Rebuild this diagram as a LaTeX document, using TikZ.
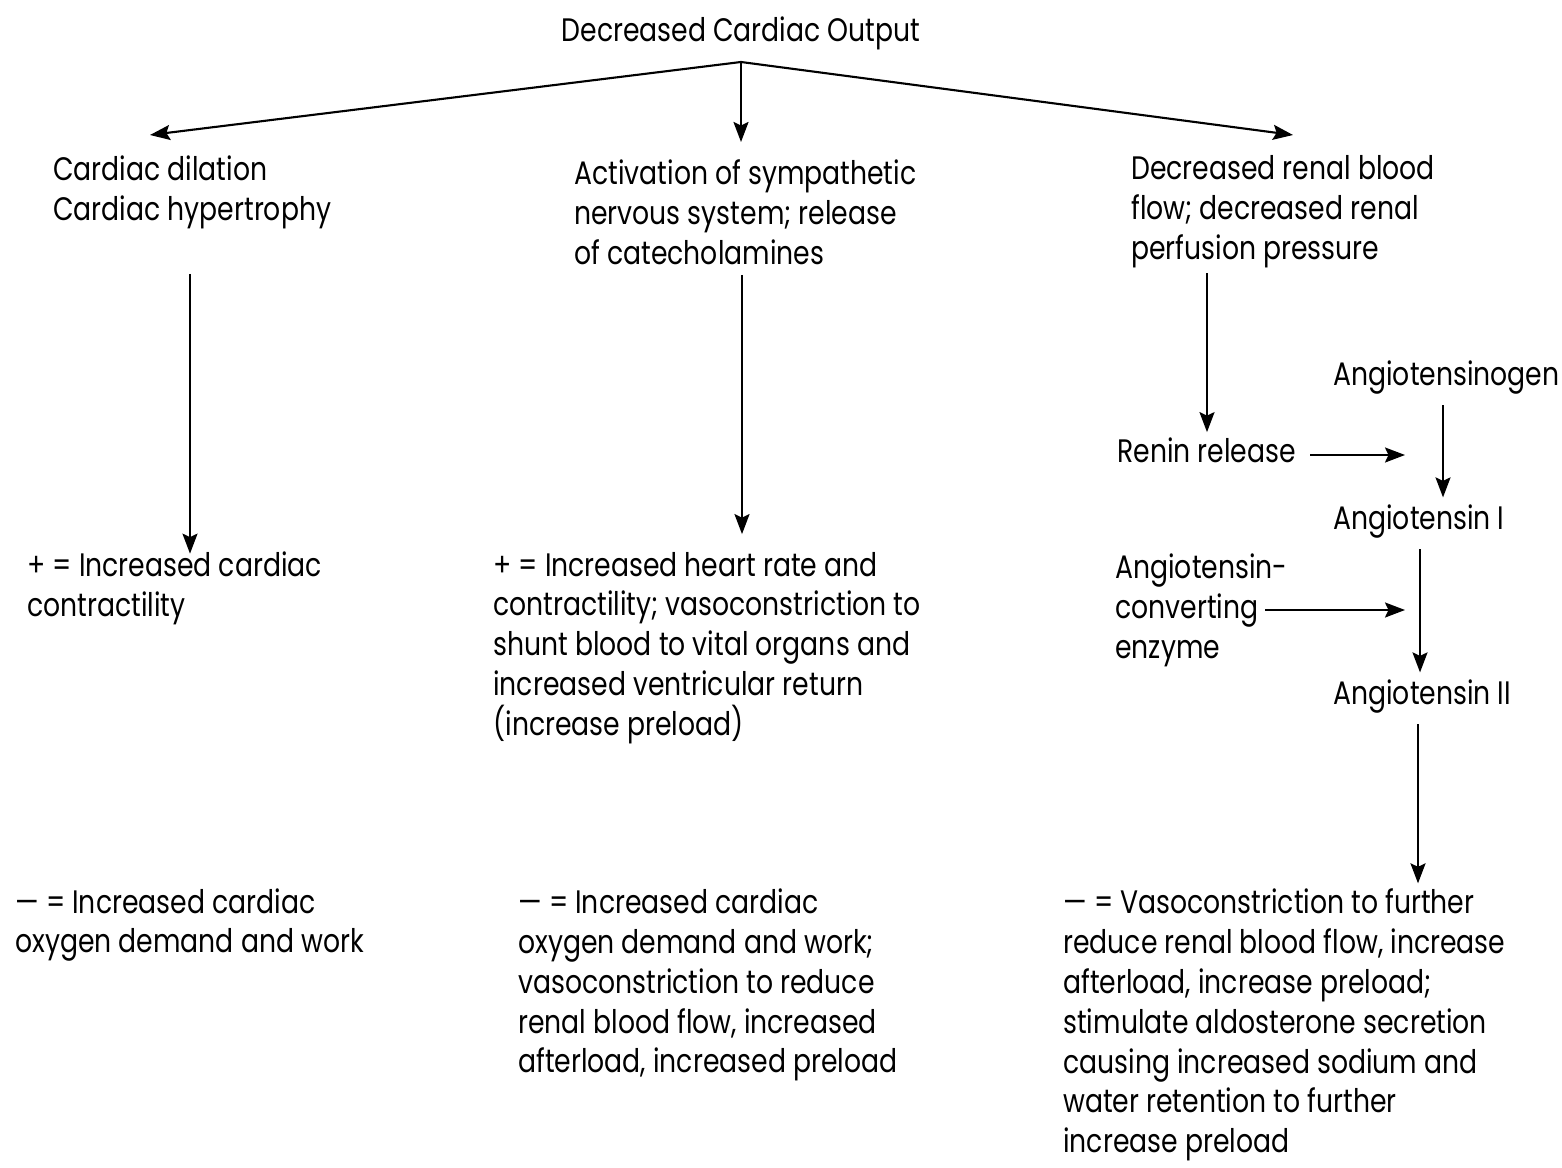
\documentclass[tikz,border=0pt]{standalone}
\usepackage{fontspec}
\setmainfont{Poppins}[FakeStretch=0.82]
\usetikzlibrary{arrows.meta}
\begin{document}
\begin{tikzpicture}[
  txt/.style={inner sep=0pt, align=left, anchor=west,
    font=\fontsize{18.5}{22.7}\selectfont},
  arr/.style={line width=1.2pt, -{Stealth[length=4mm,width=3mm,inset=0.7mm]}}
]
\useasboundingbox (0,0) rectangle (31.24,-23.36);

% top of the cascade
\node[txt, anchor=center] (top) at (14.82,-0.66) {Decreased Cardiac Output};
\coordinate (split) at (14.82,-1.24);

% first-level responses
\node[txt] (dil) at (1.06,-3.84) {Cardiac dilation\\Cardiac hypertrophy};
\node[txt] (sym) at (11.48,-4.24) {Activation of sympathetic\\nervous system; release\\of catecholamines};
\node[txt] (ren) at (22.62,-4.24) {Decreased renal blood\\flow; decreased renal\\perfusion pressure};

\coordinate (tl) at (3.0,-2.7);
\coordinate (tm) at (14.82,-2.84);
\coordinate (tr) at (25.86,-2.7);
\draw[arr] (split) -- (tl);
\draw[arr] (split) -- (tm);
\draw[arr] (split) -- (tr);

% renin-angiotensin chain
\node[txt] (renin) at (22.34,-9.0) {Renin release};
\node[txt] (agen) at (26.66,-7.56) {Angiotensinogen};
\node[txt] (ang1) at (26.66,-10.44) {Angiotensin I};
\node[txt] (ace) at (22.30,-12.2) {Angiotensin-\\converting\\enzyme};
\node[txt] (ang2) at (26.66,-13.94) {Angiotensin II};

% positive effects
\node[txt] (p1) at (0.54,-11.76) {+ = Increased cardiac\\contractility};
\node[txt] (p2) at (9.86,-12.96) {+ = Increased heart rate and\\contractility; vasoconstriction to\\shunt blood to vital organs and\\increased ventricular return\\(increase preload)};

% negative effects
\node[txt] (m1) at (0.30,-18.5) {— = Increased cardiac\\oxygen demand and work};
\node[txt] (m2) at (10.36,-19.7) {— = Increased cardiac\\oxygen demand and work;\\vasoconstriction to reduce\\renal blood flow, increased\\afterload, increased preload};
\node[txt] (m3) at (21.26,-20.5) {— = Vasoconstriction to further\\reduce renal blood flow, increase\\afterload, increase preload;\\stimulate aldosterone secretion\\causing increased sodium and\\water retention to further\\increase preload};

% vertical connectors
\coordinate (xl) at (3.8,0);
\coordinate (xm) at (14.84,0);
\coordinate (xr) at (24.14,0);
\draw[arr] (xl |- dil.south) ++(0,-0.9) -- ([yshift=-0.05cm]xl |- p1.north);
\draw[arr] (xm |- sym.south) ++(0,-0.2) -- ([yshift=0.35cm]xm |- p2.north);
\draw[arr] (xr |- ren.south) ++(0,-0.1) -- ([yshift=0.1cm]xr |- renin.north);

\coordinate (xa) at (28.86,0);
\coordinate (xb) at (28.40,0);
\coordinate (xc) at (28.36,0);
\coordinate (xh) at (28.1,0);
\coordinate (xs1) at (26.2,0);
\coordinate (xs2) at (25.3,0);
\draw[arr] ([yshift=-0.1cm]xs1 |- renin.east) -- ([yshift=-0.1cm]xh |- renin.east);
\draw[arr] (xa |- agen.south) ++(0,-0.2) -- ([yshift=0.15cm]xa |- ang1.north);
\draw[arr] (xb |- ang1.south) ++(0,-0.2) -- ([yshift=0.15cm]xb |- ang2.north);
\draw[arr] (xs2 |- ace.east) -- (xh |- ace.east);
\draw[arr] (xc |- ang2.south) ++(0,-0.2) -- ([yshift=0.1cm]xc |- m3.north);
\end{tikzpicture}
\end{document}
